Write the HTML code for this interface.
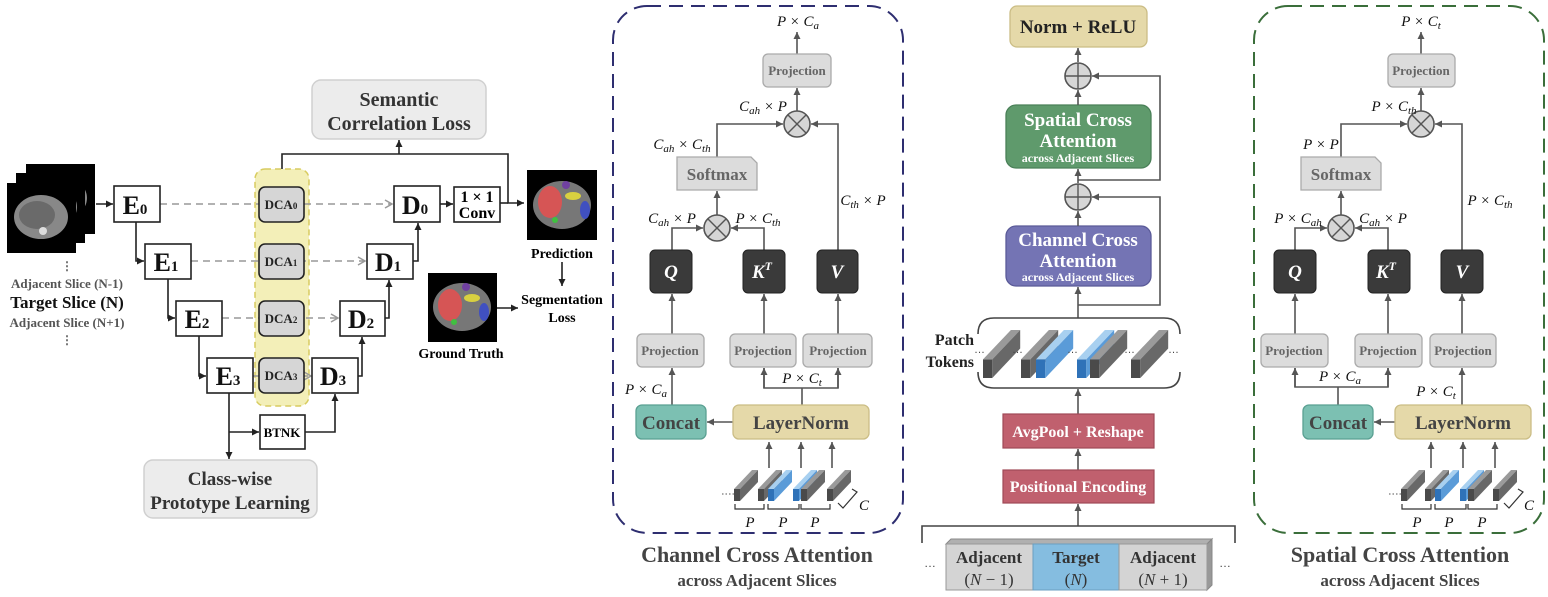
<!DOCTYPE html>
<html><head><meta charset="utf-8"><style>
html,body{margin:0;padding:0;background:#fff;}
svg{display:block;}
.b{font-family:"Liberation Serif",serif;font-weight:bold;}
.m{font-family:"Liberation Serif",serif;font-style:italic;font-size:15px;fill:#111;}
.g{fill:#555;}
</style></head><body>
<svg width="1548" height="597" viewBox="0 0 1548 597" xmlns="http://www.w3.org/2000/svg">
<defs>
<marker id="a" markerWidth="8" markerHeight="8" refX="7" refY="4" orient="auto" markerUnits="userSpaceOnUse"><path d="M0,0.5 L7,4 L0,7.5 Z" fill="#222"/></marker>
<marker id="ag" markerWidth="8" markerHeight="8" refX="7" refY="4" orient="auto" markerUnits="userSpaceOnUse"><path d="M0,0.5 L7,4 L0,7.5 Z" fill="#555"/></marker>
<marker id="al" markerWidth="10" markerHeight="10" refX="8" refY="5" orient="auto" markerUnits="userSpaceOnUse"><path d="M1,1 L8,5 L1,9" fill="none" stroke="#999" stroke-width="1.5"/></marker>
<g id="tg"><rect x="0" y="-12" width="6" height="12" fill="#4a4a4a"/><polygon points="0,-12 18,-31 24,-31 6,-12" fill="#9a9a9a"/><polygon points="6,-12 24,-31 24,-19 6,0" fill="#686868"/></g>
<g id="tb"><rect x="0" y="-12" width="6" height="12" fill="#2f72b8"/><polygon points="0,-12 18,-31 24,-31 6,-12" fill="#a8d0f0"/><polygon points="6,-12 24,-31 24,-19 6,0" fill="#5a9bd8"/></g>
<g id="ct"><rect x="0" y="0" width="69" height="70" fill="#000"/><ellipse cx="34" cy="34" rx="27" ry="22" fill="#888"/><ellipse cx="30" cy="32" rx="18" ry="14" fill="#6a6a6a"/><circle cx="36" cy="48" r="4" fill="#ddd"/></g>
</defs>

<!-- ================= LEFT PANEL ================= -->
<use href="#ct" x="26" y="164"/>
<use href="#ct" x="16" y="173"/>
<use href="#ct" x="7" y="183"/>
<text x="67" y="270" text-anchor="middle" class="b" font-size="12" fill="#666">⋮</text>
<text x="67" y="288" text-anchor="middle" class="b g" font-size="13">Adjacent Slice (N-1)</text>
<text x="67" y="308" text-anchor="middle" class="b" font-size="17" fill="#111">Target Slice (N)</text>
<text x="67" y="327" text-anchor="middle" class="b g" font-size="13">Adjacent Slice (N+1)</text>
<text x="67" y="344" text-anchor="middle" class="b" font-size="12" fill="#666">⋮</text>

<!-- yellow region -->
<rect x="255" y="169" width="54" height="237" rx="10" fill="#f3efb8" stroke="#d8cc60" stroke-width="1.5" stroke-dasharray="6,4"/>

<!-- dashed skip arrows -->
<g stroke="#999" stroke-width="1.6" stroke-dasharray="7,5" fill="none" marker-end="url(#al)">
<line x1="160" y1="204" x2="392" y2="204"/>
<line x1="191" y1="261" x2="365" y2="261"/>
<line x1="222" y1="318" x2="338" y2="318"/>
<line x1="253" y1="376" x2="311" y2="376"/>
</g>

<!-- encoder boxes -->
<g fill="#fff" stroke="#222" stroke-width="1.6">
<rect x="114" y="186" width="46" height="36"/>
<rect x="145" y="244" width="46" height="35"/>
<rect x="176" y="301" width="46" height="35"/>
<rect x="207" y="358" width="46" height="35"/>
<rect x="394" y="186" width="46" height="36"/>
<rect x="367" y="244" width="46" height="35"/>
<rect x="340" y="301" width="45" height="35"/>
<rect x="312" y="358" width="46" height="35"/>
<rect x="454" y="187" width="46" height="35"/>
<rect x="260" y="415" width="45" height="34"/>
</g>
<g class="b" font-size="26" fill="#111" text-anchor="middle">
<text x="135" y="214">E<tspan font-size="15">0</tspan></text>
<text x="166" y="271">E<tspan font-size="15">1</tspan></text>
<text x="197" y="328">E<tspan font-size="15">2</tspan></text>
<text x="228" y="385">E<tspan font-size="15">3</tspan></text>
<text x="415" y="214">D<tspan font-size="15">0</tspan></text>
<text x="388" y="271">D<tspan font-size="15">1</tspan></text>
<text x="361" y="328">D<tspan font-size="15">2</tspan></text>
<text x="333" y="385">D<tspan font-size="15">3</tspan></text>
</g>
<text x="477" y="202" text-anchor="middle" class="b" font-size="16">1 × 1</text>
<text x="477" y="218" text-anchor="middle" class="b" font-size="16">Conv</text>
<text x="282" y="437" text-anchor="middle" class="b" font-size="13">BTNK</text>

<!-- DCA -->
<g fill="#d6d6d6" stroke="#222" stroke-width="1.6">
<rect x="259" y="187" width="45" height="35" rx="6"/>
<rect x="259" y="244" width="45" height="35" rx="6"/>
<rect x="259" y="301" width="45" height="35" rx="6"/>
<rect x="259" y="358" width="45" height="35" rx="6"/>
</g>
<g class="b" font-size="13" fill="#222" text-anchor="middle">
<text x="281" y="209">DCA<tspan font-size="9">0</tspan></text>
<text x="281" y="266">DCA<tspan font-size="9">1</tspan></text>
<text x="281" y="323">DCA<tspan font-size="9">2</tspan></text>
<text x="281" y="380">DCA<tspan font-size="9">3</tspan></text>
</g>

<!-- solid connectors -->
<g stroke="#222" stroke-width="1.6" fill="none">
<line x1="96" y1="204" x2="113" y2="204" marker-end="url(#a)"/>
<polyline points="136,222 136,261 144,261" marker-end="url(#a)"/>
<polyline points="168,279 168,318 175,318" marker-end="url(#a)"/>
<polyline points="199,336 199,376 206,376" marker-end="url(#a)"/>
<polyline points="229,393 229,459" marker-end="url(#a)"/>
<polyline points="229,432 259,432" marker-end="url(#a)"/>
<polyline points="305,432 335,432 335,394" marker-end="url(#a)"/>
<polyline points="358,376 362,376 362,337" marker-end="url(#a)"/>
<polyline points="385,318 389,318 389,280" marker-end="url(#a)"/>
<polyline points="413,261 418,261 418,223" marker-end="url(#a)"/>
<line x1="440" y1="204" x2="453" y2="204" marker-end="url(#a)"/>
<polyline points="282,169 282,154 508,154 508,203 524,203" marker-end="url(#a)"/>
<line x1="500" y1="203" x2="508" y2="203"/>
<line x1="399" y1="154" x2="399" y2="140" marker-end="url(#a)"/>
<line x1="562" y1="262" x2="562" y2="286" marker-end="url(#a)"/>
<line x1="497" y1="308" x2="518" y2="308" marker-end="url(#a)"/>
</g>

<!-- Loss boxes -->
<rect x="312" y="80" width="174" height="59" rx="9" fill="#ececec" stroke="#d0d0d0" stroke-width="1.5"/>
<text x="399" y="106" text-anchor="middle" class="b" font-size="20" fill="#333">Semantic</text>
<text x="399" y="130" text-anchor="middle" class="b" font-size="20" fill="#333">Correlation Loss</text>
<rect x="144" y="460" width="173" height="58" rx="9" fill="#ececec" stroke="#d0d0d0" stroke-width="1.5"/>
<text x="230" y="485" text-anchor="middle" class="b" font-size="19" fill="#333">Class-wise</text>
<text x="230" y="509" text-anchor="middle" class="b" font-size="19" fill="#333">Prototype Learning</text>

<!-- prediction / GT -->
<rect x="527" y="170" width="70" height="70" fill="#000"/>
<ellipse cx="562" cy="205" rx="29" ry="24" fill="#777"/>
<ellipse cx="550" cy="202" rx="12" ry="16" fill="#d65555"/>
<ellipse cx="573" cy="196" rx="8" ry="4" fill="#d8d040"/>
<ellipse cx="585" cy="210" rx="5" ry="9" fill="#4050c0"/>
<circle cx="566" cy="185" r="4" fill="#7040a0"/>
<circle cx="555" cy="220" r="3" fill="#40c040"/>
<text x="562" y="258" text-anchor="middle" class="b" font-size="14">Prediction</text>
<text x="562" y="304" text-anchor="middle" class="b" font-size="14">Segmentation</text>
<text x="562" y="322" text-anchor="middle" class="b" font-size="14">Loss</text>
<rect x="428" y="273" width="69" height="69" fill="#000"/>
<ellipse cx="462" cy="307" rx="29" ry="24" fill="#777"/>
<ellipse cx="450" cy="305" rx="12" ry="16" fill="#d65555"/>
<ellipse cx="472" cy="298" rx="8" ry="4" fill="#d8d040"/>
<ellipse cx="484" cy="312" rx="5" ry="9" fill="#4050c0"/>
<circle cx="466" cy="287" r="4" fill="#7040a0"/>
<circle cx="454" cy="322" r="3" fill="#40c040"/>
<text x="461" y="358" text-anchor="middle" class="b" font-size="14">Ground Truth</text>

<!-- ================= CHANNEL PANEL ================= -->
<rect x="613" y="6" width="290" height="527" rx="34" fill="none" stroke="#2e2e70" stroke-width="2" stroke-dasharray="14,8"/>
<text x="757" y="562" text-anchor="middle" class="b" font-size="22" fill="#444">Channel Cross Attention</text>
<text x="757" y="586" text-anchor="middle" class="b" font-size="17" fill="#444">across Adjacent Slices</text>

<g stroke="#555" stroke-width="1.6" fill="none">
<line x1="797" y1="54" x2="797" y2="32" marker-end="url(#ag)"/>
<line x1="797" y1="111" x2="797" y2="88" marker-end="url(#ag)"/>
<polyline points="717,157 717,124 783,124" marker-end="url(#ag)"/>
<polyline points="838,250 838,124 811,124" marker-end="url(#ag)"/>
<line x1="717" y1="215" x2="717" y2="191" marker-end="url(#ag)"/>
<polyline points="672,250 672,228 703,228" marker-end="url(#ag)"/>
<polyline points="764,250 764,228 731,228" marker-end="url(#ag)"/>
<line x1="672" y1="334" x2="672" y2="294" marker-end="url(#ag)"/>
<line x1="764" y1="334" x2="764" y2="294" marker-end="url(#ag)"/>
<line x1="838" y1="334" x2="838" y2="294" marker-end="url(#ag)"/>
<line x1="672" y1="405" x2="672" y2="368" marker-end="url(#ag)"/>
<line x1="733" y1="422" x2="707" y2="422" marker-end="url(#ag)"/>
<polyline points="802,405 802,388"/>
<polyline points="764,368 764,388 838,388 838,368"/>
<line x1="764" y1="388" x2="764" y2="368" marker-end="url(#ag)"/>
<line x1="838" y1="388" x2="838" y2="368" marker-end="url(#ag)"/>
<line x1="769" y1="468" x2="769" y2="442" marker-end="url(#ag)"/>
<line x1="801" y1="468" x2="801" y2="442" marker-end="url(#ag)"/>
<line x1="832" y1="468" x2="832" y2="442" marker-end="url(#ag)"/>
</g>
<!-- circles -->
<g fill="#d6d6d6" stroke="#555" stroke-width="1.6">
<ellipse cx="797" cy="124" rx="13" ry="13"/><ellipse cx="717" cy="228" rx="13" ry="13"/>
</g>
<g stroke="#555" stroke-width="1.4">
<line x1="788" y1="115" x2="806" y2="133"/><line x1="806" y1="115" x2="788" y2="133"/>
<line x1="708" y1="219" x2="726" y2="237"/><line x1="726" y1="219" x2="708" y2="237"/>
</g>
<!-- projections -->
<g fill="#dcdcdc" stroke="#aaa" stroke-width="1.3">
<rect x="763" y="54" width="68" height="33" rx="5"/>
<rect x="637" y="334" width="67" height="33" rx="5"/>
<rect x="730" y="334" width="66" height="33" rx="5"/>
<rect x="803" y="334" width="69" height="33" rx="5"/>
<path d="M677,157 H751 L757,163 V190 H677 Z"/>
</g>
<g class="b" font-size="13" fill="#666" text-anchor="middle">
<text x="797" y="75">Projection</text>
<text x="670" y="355">Projection</text>
<text x="763" y="355">Projection</text>
<text x="838" y="355">Projection</text>
</g>
<text x="717" y="180" text-anchor="middle" class="b" font-size="17" fill="#666">Softmax</text>
<g fill="#3a3a3a" stroke="#222" stroke-width="1">
<rect x="650" y="250" width="42" height="43" rx="5"/>
<rect x="743" y="250" width="42" height="43" rx="5"/>
<rect x="817" y="250" width="41" height="43" rx="5"/>
</g>
<g class="b" font-style="italic" font-size="19" fill="#fff" text-anchor="middle">
<text x="671" y="278">Q</text><text x="762" y="278">K<tspan font-size="12" dy="-8">T</tspan></text><text x="837" y="278">V</text>
</g>
<rect x="636" y="405" width="70" height="34" rx="6" fill="#7cc0b2" stroke="#5aa092" stroke-width="1.3"/>
<text x="671" y="429" text-anchor="middle" class="b" font-size="19" fill="#444">Concat</text>
<rect x="733" y="405" width="136" height="34" rx="6" fill="#e5d9a9" stroke="#cbbd85" stroke-width="1.3"/>
<text x="801" y="429" text-anchor="middle" class="b" font-size="19" fill="#444">LayerNorm</text>
<!-- math labels -->
<g class="m" text-anchor="middle">
<text x="798" y="26">P × C<tspan font-size="11" dy="3">a</tspan></text>
<text x="763" y="111">C<tspan font-size="11" dy="3">ah</tspan><tspan dy="-3"> × P</tspan></text>
<text x="682" y="149">C<tspan font-size="11" dy="3">ah</tspan><tspan dy="-3"> × C</tspan><tspan font-size="11" dy="3">th</tspan></text>
<text x="672" y="223">C<tspan font-size="11" dy="3">ah</tspan><tspan dy="-3"> × P</tspan></text>
<text x="758" y="223">P × C<tspan font-size="11" dy="3">th</tspan></text>
<text x="863" y="205">C<tspan font-size="11" dy="3">th</tspan><tspan dy="-3"> × P</tspan></text>
<text x="646" y="394">P × C<tspan font-size="11" dy="3">a</tspan></text>
<text x="802" y="383">P × C<tspan font-size="11" dy="3">t</tspan></text>
</g>
<!-- tokens -->
<line x1="722" y1="494" x2="734" y2="494" stroke="#555" stroke-dasharray="1.5,2"/>
<use href="#tg" x="734" y="501"/><use href="#tg" x="758" y="501"/><use href="#tb" x="768" y="501"/>
<use href="#tb" x="793" y="501"/><use href="#tg" x="801" y="501"/><use href="#tg" x="827" y="501"/>
<g stroke="#333" stroke-width="1.2" fill="none">
<polyline points="735,504 735,509 764,509 764,504"/><polyline points="768,504 768,509 799,509 799,504"/><polyline points="801,504 801,509 830,509 830,504"/>
<polyline points="838,503 843,508 857,492 852,489"/>
</g>
<g class="m" text-anchor="middle"><text x="750" y="527">P</text><text x="783" y="527">P</text><text x="815" y="527">P</text><text x="864" y="510">C</text></g>

<!-- ================= MIDDLE PANEL ================= -->
<rect x="1010" y="6" width="137" height="41" rx="7" fill="#e5d9a9" stroke="#cbbd85" stroke-width="1.3"/>
<text x="1078" y="33" text-anchor="middle" class="b" font-size="19" fill="#222">Norm + ReLU</text>
<rect x="1006" y="105" width="145" height="63" rx="10" fill="#5f9a6c" stroke="#4a8058" stroke-width="1.3"/>
<text x="1078" y="126" text-anchor="middle" class="b" font-size="19" fill="#fff">Spatial Cross</text>
<text x="1078" y="147" text-anchor="middle" class="b" font-size="19" fill="#fff">Attention</text>
<text x="1078" y="162" text-anchor="middle" class="b" font-size="12" fill="#fff">across Adjacent Slices</text>
<rect x="1006" y="226" width="145" height="60" rx="10" fill="#7474b4" stroke="#5a5a98" stroke-width="1.3"/>
<text x="1078" y="246" text-anchor="middle" class="b" font-size="19" fill="#fff">Channel Cross</text>
<text x="1078" y="267" text-anchor="middle" class="b" font-size="19" fill="#fff">Attention</text>
<text x="1078" y="281" text-anchor="middle" class="b" font-size="12" fill="#fff">across Adjacent Slices</text>
<g stroke="#555" stroke-width="1.6" fill="none">
<line x1="1078" y1="62" x2="1078" y2="48" marker-end="url(#ag)"/>
<line x1="1078" y1="105" x2="1078" y2="90" marker-end="url(#ag)"/>
<line x1="1078" y1="183" x2="1078" y2="169" marker-end="url(#ag)"/>
<line x1="1078" y1="226" x2="1078" y2="211" marker-end="url(#ag)"/>
<polyline points="1078,180 1160,180 1160,76 1092,76" marker-end="url(#ag)"/>
<polyline points="1078,305 1160,305 1160,197 1092,197" marker-end="url(#ag)"/>
<line x1="1078" y1="318" x2="1078" y2="287" marker-end="url(#ag)"/>
<line x1="1078" y1="414" x2="1078" y2="389" marker-end="url(#ag)"/>
<line x1="1078" y1="470" x2="1078" y2="449" marker-end="url(#ag)"/>
<line x1="1078" y1="526" x2="1078" y2="504" marker-end="url(#ag)"/>
</g>
<g fill="#d6d6d6" stroke="#555" stroke-width="1.6">
<circle cx="1078" cy="76" r="13"/><circle cx="1078" cy="197" r="13"/>
</g>
<g stroke="#555" stroke-width="1.4">
<line x1="1065" y1="76" x2="1091" y2="76"/><line x1="1078" y1="63" x2="1078" y2="89"/>
<line x1="1065" y1="197" x2="1091" y2="197"/><line x1="1078" y1="184" x2="1078" y2="210"/>
</g>
<!-- patch bracket -->
<g stroke="#444" stroke-width="1.6" fill="none">
<path d="M978,334 Q978,318 994,318 H1164 Q1180,318 1180,334"/>
<path d="M978,372 Q978,388 994,388 H1164 Q1180,388 1180,372"/>
</g>
<text x="974" y="345" text-anchor="end" class="b" font-size="16" fill="#222">Patch</text>
<text x="974" y="367" text-anchor="end" class="b" font-size="16" fill="#222">Tokens</text>
<g transform="translate(983,378) scale(1.55)"><use href="#tg"/></g>
<g transform="translate(1021,378) scale(1.55)"><use href="#tg"/></g>
<g transform="translate(1036,378) scale(1.55)"><use href="#tb"/></g>
<g transform="translate(1077,378) scale(1.55)"><use href="#tb"/></g>
<g transform="translate(1090,378) scale(1.55)"><use href="#tg"/></g>
<g transform="translate(1131,378) scale(1.55)"><use href="#tg"/></g>
<g font-family="Liberation Sans,sans-serif" font-size="11" fill="#444">
<text x="974" y="353">…</text><text x="1012" y="353">…</text><text x="1067" y="353">…</text><text x="1124" y="353">…</text><text x="1168" y="353">…</text>
</g>
<rect x="1003" y="414" width="151" height="34" fill="#c0606e" stroke="#a04a58" stroke-width="1.2"/>
<text x="1078" y="437" text-anchor="middle" class="b" font-size="16" fill="#fff">AvgPool + Reshape</text>
<rect x="1003" y="470" width="151" height="33" fill="#c0606e" stroke="#a04a58" stroke-width="1.2"/>
<text x="1078" y="492" text-anchor="middle" class="b" font-size="16" fill="#fff">Positional Encoding</text>
<polyline points="922,543 922,526 1235,526 1235,543" fill="none" stroke="#444" stroke-width="1.6"/>
<!-- slices -->
<polygon points="946,544 951,539 1212,539 1207,544" fill="#b0b0b0" stroke="#888"/>
<polygon points="1207,544 1212,539 1212,585 1207,590" fill="#999" stroke="#888"/>
<rect x="946" y="544" width="87" height="46" fill="#d4d4d4" stroke="#999"/>
<rect x="1033" y="544" width="86" height="46" fill="#85bde0" stroke="#6a9ec0"/>
<rect x="1119" y="544" width="88" height="46" fill="#d4d4d4" stroke="#999"/>
<g class="b" font-size="17" fill="#333" text-anchor="middle">
<text x="989" y="563">Adjacent</text><text x="1076" y="563">Target</text><text x="1163" y="563">Adjacent</text>
</g>
<g font-family="Liberation Serif,serif" font-size="17" fill="#333" text-anchor="middle">
<text x="989" y="585">(<tspan font-style="italic">N</tspan> − 1)</text>
<text x="1076" y="585">(<tspan font-style="italic">N</tspan>)</text>
<text x="1163" y="585">(<tspan font-style="italic">N</tspan> + 1)</text>
</g>
<text x="930" y="567" text-anchor="middle" font-family="Liberation Sans,sans-serif" font-size="12" fill="#444">…</text>
<text x="1225" y="567" text-anchor="middle" font-family="Liberation Sans,sans-serif" font-size="12" fill="#444">…</text>

<!-- ================= SPATIAL PANEL ================= -->
<rect x="1254" y="6" width="290" height="527" rx="34" fill="none" stroke="#3a6e3a" stroke-width="2" stroke-dasharray="14,8"/>
<text x="1400" y="562" text-anchor="middle" class="b" font-size="22" fill="#444">Spatial Cross Attention</text>
<text x="1400" y="586" text-anchor="middle" class="b" font-size="17" fill="#444">across Adjacent Slices</text>
<g stroke="#555" stroke-width="1.6" fill="none">
<line x1="1421" y1="54" x2="1421" y2="32" marker-end="url(#ag)"/>
<line x1="1421" y1="111" x2="1421" y2="88" marker-end="url(#ag)"/>
<polyline points="1341,157 1341,124 1407,124" marker-end="url(#ag)"/>
<polyline points="1462,250 1462,124 1435,124" marker-end="url(#ag)"/>
<line x1="1341" y1="215" x2="1341" y2="191" marker-end="url(#ag)"/>
<polyline points="1295,250 1295,228 1327,228" marker-end="url(#ag)"/>
<polyline points="1388,250 1388,228 1355,228" marker-end="url(#ag)"/>
<line x1="1295" y1="334" x2="1295" y2="294" marker-end="url(#ag)"/>
<line x1="1388" y1="334" x2="1388" y2="294" marker-end="url(#ag)"/>
<line x1="1462" y1="334" x2="1462" y2="294" marker-end="url(#ag)"/>
<line x1="1462" y1="405" x2="1462" y2="368" marker-end="url(#ag)"/>
<line x1="1395" y1="422" x2="1374" y2="422" marker-end="url(#ag)"/>
<line x1="1338" y1="405" x2="1338" y2="387"/>
<polyline points="1295,368 1295,387 1388,387 1388,368"/>
<line x1="1295" y1="387" x2="1295" y2="368" marker-end="url(#ag)"/>
<line x1="1388" y1="387" x2="1388" y2="368" marker-end="url(#ag)"/>
<line x1="1431" y1="468" x2="1431" y2="442" marker-end="url(#ag)"/>
<line x1="1463" y1="468" x2="1463" y2="442" marker-end="url(#ag)"/>
<line x1="1495" y1="468" x2="1495" y2="442" marker-end="url(#ag)"/>
</g>
<g fill="#d6d6d6" stroke="#555" stroke-width="1.6">
<circle cx="1421" cy="124" r="13"/><circle cx="1341" cy="228" r="13"/>
</g>
<g stroke="#555" stroke-width="1.4">
<line x1="1412" y1="115" x2="1430" y2="133"/><line x1="1430" y1="115" x2="1412" y2="133"/>
<line x1="1332" y1="219" x2="1350" y2="237"/><line x1="1350" y1="219" x2="1332" y2="237"/>
</g>
<g fill="#dcdcdc" stroke="#aaa" stroke-width="1.3">
<rect x="1388" y="54" width="67" height="33" rx="5"/>
<rect x="1261" y="334" width="67" height="33" rx="5"/>
<rect x="1355" y="334" width="67" height="33" rx="5"/>
<rect x="1430" y="334" width="66" height="33" rx="5"/>
<path d="M1301,157 H1375 L1381,163 V190 H1301 Z"/>
</g>
<g class="b" font-size="13" fill="#666" text-anchor="middle">
<text x="1421" y="75">Projection</text>
<text x="1294" y="355">Projection</text>
<text x="1388" y="355">Projection</text>
<text x="1463" y="355">Projection</text>
</g>
<text x="1341" y="180" text-anchor="middle" class="b" font-size="17" fill="#666">Softmax</text>
<g fill="#3a3a3a" stroke="#222" stroke-width="1">
<rect x="1274" y="250" width="42" height="43" rx="5"/>
<rect x="1368" y="250" width="42" height="43" rx="5"/>
<rect x="1441" y="250" width="42" height="43" rx="5"/>
</g>
<g class="b" font-style="italic" font-size="19" fill="#fff" text-anchor="middle">
<text x="1295" y="278">Q</text><text x="1386" y="278">K<tspan font-size="12" dy="-8">T</tspan></text><text x="1462" y="278">V</text>
</g>
<rect x="1303" y="405" width="70" height="34" rx="6" fill="#7cc0b2" stroke="#5aa092" stroke-width="1.3"/>
<text x="1338" y="429" text-anchor="middle" class="b" font-size="19" fill="#444">Concat</text>
<rect x="1395" y="405" width="136" height="34" rx="6" fill="#e5d9a9" stroke="#cbbd85" stroke-width="1.3"/>
<text x="1463" y="429" text-anchor="middle" class="b" font-size="19" fill="#444">LayerNorm</text>
<g class="m" text-anchor="middle">
<text x="1421" y="26">P × C<tspan font-size="11" dy="3">t</tspan></text>
<text x="1394" y="111">P × C<tspan font-size="11" dy="3">th</tspan></text>
<text x="1321" y="149">P × P</text>
<text x="1298" y="223">P × C<tspan font-size="11" dy="3">ah</tspan></text>
<text x="1383" y="223">C<tspan font-size="11" dy="3">ah</tspan><tspan dy="-3"> × P</tspan></text>
<text x="1490" y="205">P × C<tspan font-size="11" dy="3">th</tspan></text>
<text x="1340" y="381">P × C<tspan font-size="11" dy="3">a</tspan></text>
<text x="1436" y="396">P × C<tspan font-size="11" dy="3">t</tspan></text>
</g>
<line x1="1389" y1="494" x2="1401" y2="494" stroke="#555" stroke-dasharray="1.5,2"/>
<use href="#tg" x="1401" y="501"/><use href="#tg" x="1425" y="501"/><use href="#tb" x="1435" y="501"/>
<use href="#tb" x="1460" y="501"/><use href="#tg" x="1468" y="501"/><use href="#tg" x="1493" y="501"/>
<g stroke="#333" stroke-width="1.2" fill="none">
<polyline points="1402,504 1402,509 1431,509 1431,504"/><polyline points="1435,504 1435,509 1466,509 1466,504"/><polyline points="1468,504 1468,509 1497,509 1497,504"/>
<polyline points="1504,503 1509,508 1523,492 1518,489"/>
</g>
<g class="m" text-anchor="middle"><text x="1417" y="527">P</text><text x="1449" y="527">P</text><text x="1482" y="527">P</text><text x="1529" y="510">C</text></g>
</svg>
</body></html>
